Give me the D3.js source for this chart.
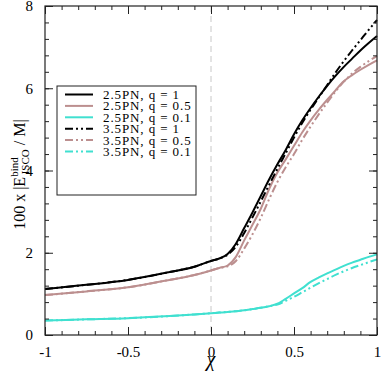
<!DOCTYPE html>
<html>
<head>
<meta charset="utf-8">
<script src="https://cdn.jsdelivr.net/npm/d3@7"></script>
<style>
  body { margin: 0; background: #fff; }
  text { font-family: "Liberation Serif", "DejaVu Serif", serif; }
</style>
</head>
<body>
<div class="chart"></div>
<script>
var chi = [-1, -0.75, -0.5, -0.25, -0.1, 0, 0.05, 0.1, 0.15, 0.2, 0.25, 0.3, 0.35, 0.4, 0.45,
    0.5, 0.55, 0.6, 0.65, 0.7, 0.75, 0.8, 0.85, 0.9, 0.95, 1];

var pn25q1 = [1.12, 1.22, 1.34, 1.53, 1.66, 1.80, 1.86, 1.97, 2.22, 2.60, 2.98, 3.38, 3.78, 4.15, 4.50,
    4.88, 5.22, 5.52, 5.80, 6.06, 6.30, 6.52, 6.72, 6.92, 7.10, 7.27];
var pn25q05 = [0.97, 1.06, 1.16, 1.34, 1.46, 1.57, 1.63, 1.69, 1.90, 2.30, 2.68, 3.07, 3.55, 3.95, 4.27,
    4.60, 4.93, 5.22, 5.48, 5.72, 5.95, 6.17, 6.32, 6.45, 6.57, 6.68];
var pn25q01 = [0.35, 0.38, 0.41, 0.46, 0.50, 0.53, 0.545, 0.56, 0.58, 0.60, 0.63, 0.66, 0.70, 0.76, 0.88,
    1.01, 1.14, 1.29, 1.40, 1.50, 1.59, 1.68, 1.76, 1.83, 1.90, 1.96];
var pn35q1 = [1.12, 1.22, 1.34, 1.53, 1.66, 1.80, 1.86, 1.95, 2.15, 2.48, 2.86, 3.25, 3.65, 4.04, 4.42,
    4.80, 5.16, 5.48, 5.78, 6.08, 6.38, 6.66, 6.92, 7.17, 7.42, 7.66];
var pn35q05 = [0.97, 1.06, 1.16, 1.34, 1.46, 1.57, 1.63, 1.67, 1.80, 2.10, 2.45, 2.85, 3.30, 3.72, 4.08,
    4.40, 4.75, 5.07, 5.37, 5.65, 5.92, 6.16, 6.36, 6.52, 6.66, 6.78];
var pn35q01 = [0.35, 0.38, 0.41, 0.46, 0.50, 0.53, 0.545, 0.56, 0.58, 0.60, 0.63, 0.66, 0.70, 0.74, 0.83,
    0.93, 1.04, 1.15, 1.26, 1.36, 1.46, 1.55, 1.63, 1.70, 1.77, 1.84];

var seriesNames = ['2.5PN, q = 1', '2.5PN, q = 0.5', '2.5PN, q = 0.1',
    '3.5PN, q = 1', '3.5PN, q = 0.5', '3.5PN, q = 0.1'];
var seriesValues = [pn25q1, pn25q05, pn25q01, pn35q1, pn35q05, pn35q01];
var seriesColors = ['#000000', '#bc8f8f', '#40e0d0', '#000000', '#bc8f8f', '#40e0d0'];
var seriesDashed = [false, false, false, true, true, true];

var xTicks = [-1, -0.5, 0, 0.5, 1];
var yTicks = [0, 2, 4, 6, 8];

var margin = { top: 6, right: 5, bottom: 37, left: 45 };
var width = 382 - margin.left - margin.right;
var height = 372 - margin.top - margin.bottom;
var dashDotDot = '8,3,2,3,2,3';

var svg = d3.select('.chart')
    .append('svg')
    .attr('width', 382)
    .attr('height', 372)
    .append('g')
    .attr('transform', 'translate(' + margin.left + ', ' + margin.top + ')');

var xScale = d3.scaleLinear().domain([-1, 1]).range([0, width]);
var yScale = d3.scaleLinear().domain([0, 8]).range([height, 0]);

// zero line
svg.append('line')
    .attr('x1', xScale(0)).attr('x2', xScale(0))
    .attr('y1', 0).attr('y2', height)
    .attr('stroke', '#c8c8c8')
    .attr('stroke-width', 1)
    .attr('stroke-dasharray', '6,4');

var line = d3.line()
    .x((d, i) => xScale(chi[i]))
    .y(d => yScale(d))
    .curve(d3.curveMonotoneX);

svg.selectAll('.series')
    .data(seriesValues)
    .enter()
    .append('path')
    .attr('class', 'series')
    .attr('fill', 'none')
    .attr('stroke', (d, i) => seriesColors[i])
    .attr('stroke-width', 2)
    .attr('stroke-dasharray', (d, i) => seriesDashed[i] ? dashDotDot : null)
    .attr('d', line);

// axes with inward ticks on all sides
function styleAxis(g) {
    g.select('.domain').remove();
    g.selectAll('line').attr('stroke', '#222');
    g.selectAll('text').style('font-size', '15px').attr('fill', '#000');
}

var xMinor = d3.range(-1, 1.0001, 0.1);
var yMinor = d3.range(0, 8.0001, 0.4);

svg.append('g').attr('transform', `translate(0, ${height})`)
    .call(d3.axisBottom(xScale).tickValues(xMinor).tickSize(-4).tickFormat(''))
    .call(styleAxis);
svg.append('g').attr('transform', `translate(0, ${height})`)
    .call(d3.axisBottom(xScale).tickValues(xTicks).tickSize(-8).tickPadding(11)
        .tickFormat(d => String(d)))
    .call(styleAxis);
svg.append('g')
    .call(d3.axisTop(xScale).tickValues(xMinor).tickSize(-4).tickFormat(''))
    .call(styleAxis);
svg.append('g')
    .call(d3.axisTop(xScale).tickValues(xTicks).tickSize(-8).tickFormat(''))
    .call(styleAxis);

svg.append('g')
    .call(d3.axisLeft(yScale).tickValues(yMinor).tickSize(-4).tickFormat(''))
    .call(styleAxis);
svg.append('g')
    .call(d3.axisLeft(yScale).tickValues(yTicks).tickSize(-8).tickPadding(12))
    .call(styleAxis);
svg.append('g').attr('transform', `translate(${width}, 0)`)
    .call(d3.axisRight(yScale).tickValues(yMinor).tickSize(-4).tickFormat(''))
    .call(styleAxis);
svg.append('g').attr('transform', `translate(${width}, 0)`)
    .call(d3.axisRight(yScale).tickValues(yTicks).tickSize(-8).tickFormat(''))
    .call(styleAxis);

svg.append('rect')
    .attr('width', width).attr('height', height)
    .attr('fill', 'none')
    .attr('stroke', '#222')
    .attr('stroke-width', 1.2);

// legend
var legend = svg.append('g').attr('transform', 'translate(12, 80)');
legend.append('rect')
    .attr('width', 139).attr('height', 109)
    .attr('fill', '#fff')
    .attr('stroke', '#222')
    .attr('stroke-width', 1);

var rows = legend.selectAll('.row')
    .data(seriesNames)
    .enter()
    .append('g')
    .attr('class', 'row')
    .attr('transform', (d, i) => `translate(0, ${8.5 + i * 11.4})`);

rows.append('line')
    .attr('x1', 8).attr('x2', 36)
    .attr('stroke', (d, i) => seriesColors[i])
    .attr('stroke-width', 2)
    .attr('stroke-dasharray', (d, i) => seriesDashed[i] ? dashDotDot : null);

rows.append('text')
    .attr('x', 46).attr('y', 4.5)
    .style('font-size', '13px')
    .style('letter-spacing', '0.9px')
    .text(d => d);

// axis titles
svg.append('text')
    .attr('x', xScale(0)).attr('y', height + 31)
    .style('text-anchor', 'middle')
    .style('font-size', '20px')
    .style('font-style', 'italic')
    .text('χ');

var ylab = svg.append('text')
    .attr('transform', `translate(-20, ${yScale(3.9)}) rotate(-90)`)
    .style('text-anchor', 'middle')
    .style('font-size', '16px');
ylab.append('tspan').text('100 x |E');
ylab.append('tspan').attr('dy', -7).style('font-size', '11px').text('bind');
ylab.append('tspan').attr('dx', -17).attr('dy', 11).style('font-size', '11px').text('ISCO');
ylab.append('tspan').attr('dy', -4).text(' / M|');
</script>
</body>
</html>
